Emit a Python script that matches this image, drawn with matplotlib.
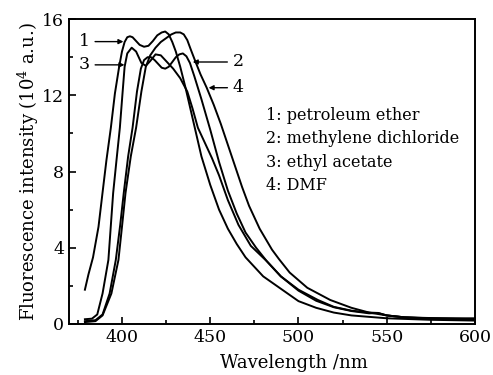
import matplotlib
matplotlib.use("Agg")

import matplotlib.pyplot as plt
from matplotlib.ticker import MultipleLocator

plt.rcParams["font.family"] = ["DejaVu Serif"]
plt.rcParams["mathtext.fontset"] = "dejavuserif"

# 1: petroleum ether
wl1 = [379, 381, 383.6, 386.7, 389, 391.2, 393.7, 396, 398.4, 400, 401.5, 403, 404.5, 406,
       408, 410, 412.5, 415, 417.5, 420, 422.5, 424.5, 426.5, 428.5, 430.5, 433, 436, 440,
       445, 450, 455, 460, 465, 470, 475, 480, 490, 500, 510, 520, 530, 550, 575, 600]
int1 = [1.8, 2.6, 3.5, 5.1, 6.9, 8.6, 10.3, 12.1, 13.5, 14.3, 14.8, 15.05, 15.1, 15.05,
        14.85, 14.65, 14.55, 14.6, 14.85, 15.15, 15.3, 15.35, 15.2, 14.8, 14.3, 13.5, 12.4,
        10.8, 8.8, 7.3, 6.0, 5.0, 4.2, 3.5, 3.0, 2.5, 1.85, 1.2, 0.85, 0.6, 0.45, 0.3, 0.22,
        0.18]

# 2: methylene dichloride
wl2 = [379, 385, 389, 393, 396.5, 399, 401, 403.5, 406, 408.5, 410.7, 412.5, 414.5, 416.5,
       418.5, 420.5, 422.5, 424.5, 426.5, 428.5, 430.5, 432.5, 434.5, 436.5, 438.5, 441, 445,
       450, 455, 460, 465, 470, 476, 482, 490, 500, 511, 520, 530, 540, 545, 550, 560, 580,
       600]
int2 = [0.15, 0.2, 0.5, 1.6, 3.36, 5.2, 6.87, 8.8, 10.3, 12.2, 13.4, 13.85, 14.0, 14.0,
        13.85, 13.65, 13.45, 13.4, 13.5, 13.75, 14.0, 14.15, 14.2, 14.05, 13.7, 13.0, 11.8,
        10.2, 8.5, 7.0, 5.8, 4.8, 4.0, 3.3, 2.5, 1.8, 1.26, 0.9, 0.7, 0.6, 0.58, 0.45, 0.35,
        0.3, 0.25]

# 3: ethyl acetate
wl3 = [379, 383, 386, 389, 392.3, 395, 396.9, 398.8, 400.3, 401.5, 403, 405.5, 408, 411,
       413.5, 416, 419, 422, 425, 429, 433, 437, 440, 443, 447, 451, 455, 460, 466, 473, 482,
       490, 500, 510, 520, 530, 540, 545, 550, 560, 575, 600]
int3 = [0.25, 0.28, 0.5, 1.6, 3.36, 6.87, 8.6, 10.3, 12.1, 13.5, 14.2, 14.5, 14.3, 13.7,
        13.55, 13.8, 14.15, 14.1, 13.8, 13.4, 12.9, 12.2, 11.3, 10.3, 9.5, 8.7, 7.8, 6.5, 5.2,
        4.1, 3.3, 2.5, 1.75, 1.22, 0.88, 0.68, 0.56, 0.58, 0.45, 0.35, 0.3, 0.3]

# 4: DMF
wl4 = [379, 385, 389, 394, 398, 400, 402, 405, 408, 411, 413.5, 416, 419, 422, 425, 428,
       430.5, 433, 435, 437, 439, 441.5, 444.5, 448, 452, 456, 460, 464, 468, 472, 478, 485,
       489, 495, 505, 518, 530, 540, 550, 560, 575, 600]
int4 = [0.1, 0.15, 0.45, 1.6, 3.36, 5.1, 6.87, 8.8, 10.3, 12.2, 13.5, 14.1, 14.5, 14.8,
        15.0, 15.2, 15.3, 15.3, 15.2, 14.9, 14.4, 13.8, 13.1, 12.4, 11.5, 10.5, 9.4, 8.3, 7.2,
        6.2, 5.0, 3.9, 3.4, 2.7, 1.9, 1.26, 0.85, 0.6, 0.45, 0.35, 0.28, 0.25]

legend_lines = ["1: petroleum ether", "2: methylene dichloride", "3: ethyl acetate", "4: DMF"]

fig = plt.figure(figsize=(4.93, 3.75), dpi=100)
ax = fig.add_axes([0.140, 0.136, 0.8235, 0.813])

for wl, it in [(wl1, int1), (wl2, int2), (wl3, int3), (wl4, int4)]:
    ax.plot(wl, it, color="black", linewidth=1.4)

ax.set_xlim(370, 600)
ax.set_ylim(0, 16)
ax.xaxis.set_major_locator(MultipleLocator(50))
ax.xaxis.set_minor_locator(MultipleLocator(25))
ax.yaxis.set_major_locator(MultipleLocator(4))
ax.yaxis.set_minor_locator(MultipleLocator(2))
ax.tick_params(which="both", direction="in", top=False, right=False, labelsize=12.5, width=1.2)
ax.tick_params(which="major", length=5)
ax.tick_params(which="minor", length=3)
for sp in ax.spines.values():
    sp.set_linewidth(1.4)

ax.set_xlabel("Wavelength /nm", fontsize=13)
ax.xaxis.set_label_coords(0.555, -0.1)
ax.set_ylabel(r"Fluorescence intensity (10$^4$ a.u.)", fontsize=13, labelpad=1)

# curve labels with arrows
arrow = dict(arrowstyle="-|>", color="black", linewidth=1.0, mutation_scale=7)
ax.annotate("1", xy=(402.4, 14.82), xytext=(378.5, 14.82), fontsize=12.5,
            va="center", ha="center", arrowprops=arrow)
ax.annotate("3", xy=(403.0, 13.6), xytext=(378.5, 13.6), fontsize=12.5,
            va="center", ha="center", arrowprops=arrow)
ax.annotate("2", xy=(438.5, 13.75), xytext=(466.0, 13.75), fontsize=12.5,
            va="center", ha="center", arrowprops=arrow)
ax.annotate("4", xy=(447.5, 12.4), xytext=(466.0, 12.4), fontsize=12.5,
            va="center", ha="center", arrowprops=arrow)

for i, line in enumerate(legend_lines):
    ax.text(0.485, 0.685 - i * 0.077, line, transform=ax.transAxes,
            fontsize=11.5, va="center", ha="left")

fig.savefig("out.png", dpi=100, facecolor="white")
